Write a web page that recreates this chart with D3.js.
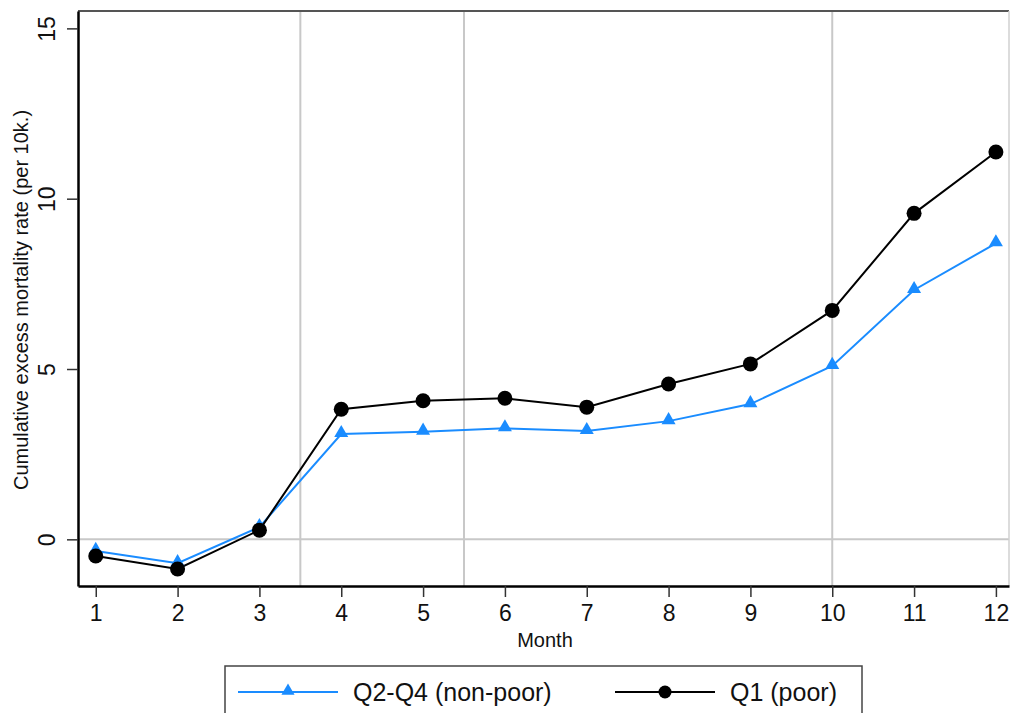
<!DOCTYPE html>
<html>
<head>
<meta charset="utf-8">
<script src="https://cdn.jsdelivr.net/npm/d3@7"></script>
<style>
  html, body { margin: 0; padding: 0; background: #fff; }
  svg { display: block; font-family: "Liberation Sans", Arial, Helvetica, sans-serif; }
</style>
</head>
<body>
<svg id="chart" width="1010" height="713"></svg>
<script>
const months = [1, 2, 3, 4, 5, 6, 7, 8, 9, 10, 11, 12];
const nonPoor = [-0.34, -0.70, 0.36, 3.09, 3.16, 3.26, 3.18, 3.47, 3.97, 5.09, 7.32, 8.69];
const poor = [-0.49, -0.87, 0.27, 3.82, 4.07, 4.14, 3.88, 4.56, 5.15, 6.72, 9.57, 11.37];
const yTicks = [0, 5, 10, 15];
const xTicks = months;
const vLines = [3.5, 5.5, 10];
const hLines = [0];
const seriesNames = ["Q2-Q4 (non-poor)", "Q1 (poor)"];

(function () {
const svg = d3.select("#chart");
const pL = 78, pR = 1009, pT = 11, pB = 586;

const x = d3.scaleLinear().domain([0.783, 12.16]).range([pL, pR]);
const y = d3.scaleLinear().domain([-1.37, 15.51]).range([pB, pT]);

// reference lines
svg.append("g").selectAll("line").data(vLines).join("line")
  .attr("x1", d => x(d)).attr("x2", d => x(d))
  .attr("y1", pT).attr("y2", pB)
  .attr("stroke", "#c8c8c8").attr("stroke-width", 2);
svg.append("g").selectAll("line").data(hLines).join("line")
  .attr("x1", pL).attr("x2", pR)
  .attr("y1", d => y(d)).attr("y2", d => y(d))
  .attr("stroke", "#c8c8c8").attr("stroke-width", 2);

// frame: top dark gray, right light gray
svg.append("line").attr("x1", pL).attr("x2", pR).attr("y1", pT).attr("y2", pT)
  .attr("stroke", "#555").attr("stroke-width", 2);
svg.append("line").attr("x1", pR).attr("x2", pR).attr("y1", pT).attr("y2", pB)
  .attr("stroke", "#d0d0d0").attr("stroke-width", 1.5);

// axes
const xAxis = svg.append("g").attr("transform", `translate(0,${pB})`)
  .call(d3.axisBottom(x).tickValues(xTicks).tickSize(11).tickSizeOuter(0).tickPadding(8).tickFormat(d3.format("d")));
xAxis.select(".domain").attr("stroke", "#000").attr("stroke-width", 2.5);
xAxis.selectAll(".tick line").attr("stroke", "#333").attr("stroke-width", 1.5);
xAxis.selectAll(".tick text").attr("font-size", 23).attr("fill", "#111");

const yAxis = svg.append("g").attr("transform", `translate(${pL},0)`)
  .call(d3.axisLeft(y).tickValues(yTicks).tickSize(11).tickSizeOuter(0).tickFormat(d3.format("d")));
yAxis.select(".domain").attr("stroke", "#000").attr("stroke-width", 2.5);
yAxis.selectAll(".tick line").attr("stroke", "#333").attr("stroke-width", 1.5);
yAxis.selectAll(".tick text")
  .attr("font-size", 23).attr("fill", "#111")
  .attr("text-anchor", "middle").attr("dy", null).attr("x", null)
  .attr("transform", "translate(-23,0) rotate(-90)");

// axis titles
svg.append("text").attr("x", 545).attr("y", 647).attr("text-anchor", "middle")
  .attr("font-size", 20).attr("fill", "#111").text("Month");
svg.append("text").attr("transform", `translate(28,300) rotate(-90)`)
  .attr("text-anchor", "middle").attr("font-size", 20).attr("fill", "#111")
  .text("Cumulative excess mortality rate (per 10k.)");

// lines
const line = d3.line().x((d, i) => x(months[i])).y(d => y(d));
const blue = "#1a8cff";
svg.append("path").datum(nonPoor).attr("d", line).attr("fill", "none")
  .attr("stroke", blue).attr("stroke-width", 2);
svg.append("path").datum(poor).attr("d", line).attr("fill", "none")
  .attr("stroke", "#000").attr("stroke-width", 2);

const tri = d3.symbol().type(d3.symbolTriangle).size(85);
svg.append("g").selectAll("path").data(nonPoor).join("path")
  .attr("d", tri)
  .attr("transform", (d, i) => `translate(${x(months[i])},${y(d) - 1})`)
  .attr("fill", blue);
svg.append("g").selectAll("circle").data(poor).join("circle")
  .attr("cx", (d, i) => x(months[i])).attr("cy", d => y(d)).attr("r", 7.5)
  .attr("fill", "#000");

// legend
const lg = svg.append("g");
lg.append("rect").attr("x", 225).attr("y", 666).attr("width", 637).attr("height", 60)
  .attr("fill", "#fff").attr("stroke", "#444").attr("stroke-width", 1.5);
const legendY = 692;
lg.append("line").attr("x1", 238).attr("x2", 338).attr("y1", legendY).attr("y2", legendY)
  .attr("stroke", blue).attr("stroke-width", 2);
lg.append("path").attr("d", d3.symbol().type(d3.symbolTriangle).size(75))
  .attr("transform", `translate(288,${legendY - 1})`).attr("fill", blue);
lg.append("text").attr("x", 353).attr("y", legendY + 9).attr("font-size", 25).attr("fill", "#111")
  .text(seriesNames[0]);
lg.append("line").attr("x1", 615).attr("x2", 715).attr("y1", legendY).attr("y2", legendY)
  .attr("stroke", "#000").attr("stroke-width", 2);
lg.append("circle").attr("cx", 665).attr("cy", legendY).attr("r", 6.5).attr("fill", "#000");
lg.append("text").attr("x", 730).attr("y", legendY + 9).attr("font-size", 25).attr("fill", "#111")
  .text(seriesNames[1]);
})();
</script>
</body>
</html>
